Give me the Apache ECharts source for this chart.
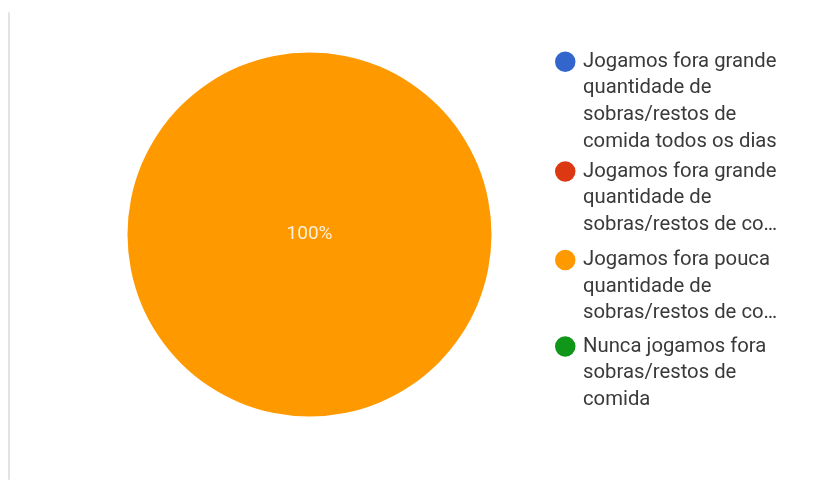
<!DOCTYPE html>
<html>
<head>
<meta charset="utf-8">
<script src="https://cdn.jsdelivr.net/npm/echarts@6/dist/echarts.min.js"></script>
<style>
  html, body { margin: 0; padding: 0; background: #ffffff; }
  #chart { width: 839px; height: 482px; }
</style>
</head>
<body>
<div id="chart"></div>
<script>
// Answer options (legend labels, already wrapped as shown in the legend)
const categories = [
  'Jogamos fora grande\nquantidade de\nsobras/restos de\ncomida todos os dias',
  'Jogamos fora grande\nquantidade de\nsobras/restos de co…',
  'Jogamos fora pouca\nquantidade de\nsobras/restos de co…',
  'Nunca jogamos fora\nsobras/restos de\ncomida'
];
// Share of responses per option (%)
const values = [0, 0, 100, 0];
const colors = ['#3366cc', '#dc3912', '#ff9900', '#109618'];

// Legend layout
const LINE = 26.7;                              // text line height
const legendRowCenters = [61.7, 171.5, 260, 346.5]; // y of each entry's first text line

// Round marker sitting on the first text line of a multi-line legend entry.
// Two invisible zero-area segments stretch the icon's box to the full entry height.
function markerIcon(lines) {
  const h = (lines * LINE).toFixed(2);
  const cy = (LINE / 2).toFixed(2);
  const r = 10.25;
  return 'path://M0,0L0.01,0' +
         'M22.99,' + h + 'L23,' + h +
         'M20.5,' + cy +
         'A' + r + ',' + r + ' 0 1 1 0,' + cy +
         'A' + r + ',' + r + ' 0 1 1 20.5,' + cy + 'Z';
}

const chart = echarts.init(document.getElementById('chart'), null, { renderer: 'canvas' });

const legends = categories.map(function (name, i) {
  const n = name.split('\n').length;
  return {
    orient: 'vertical',
    left: 555,
    top: legendRowCenters[i] - LINE / 2,
    padding: 0,
    itemWidth: 23,
    itemHeight: n * LINE,
    itemGap: 0,
    icon: markerIcon(n),
    selectedMode: false,
    data: [name],
    itemStyle: { borderWidth: 0 },
    textStyle: {
      fontFamily: 'Roboto',
      fontSize: 20.3,
      lineHeight: LINE,
      color: '#3a3a3a'
    }
  };
});

chart.setOption({
  animation: false,
  backgroundColor: '#ffffff',
  color: colors,
  legend: legends,
  graphic: [{
    type: 'rect',
    shape: { x: 8, y: 12, width: 2, height: 468, r: 1 },
    style: { fill: '#e3e3e3' },
    silent: true
  }],
  series: [{
    type: 'pie',
    center: [309.5, 234.5],
    radius: 182,
    silent: true,
    avoidLabelOverlap: false,
    itemStyle: { borderWidth: 0 },
    data: categories.map(function (name, i) {
      return { name: name, value: values[i], itemStyle: { color: colors[i] } };
    }),
    label: {
      position: 'center',
      formatter: function (p) { return p.value > 0 ? p.percent + '%' : ''; },
      color: 'rgba(255,255,255,0.85)',
      fontFamily: 'Roboto',
      fontSize: 19,
      padding: [3, 0, 0, 0]
    },
    labelLine: { show: false }
  }]
});
</script>
</body>
</html>
